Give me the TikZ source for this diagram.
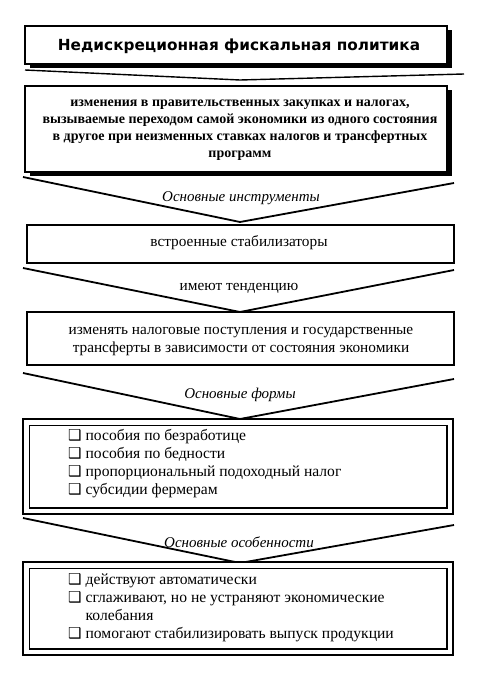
\documentclass[tikz,border=0pt]{standalone}
\usepackage{fontspec}
\setmainfont{Liberation Serif}
\newfontfamily\titlefont{DejaVu Sans}
\newfontfamily\symfont{DejaVu Sans}
\usetikzlibrary{shadows}
\newcommand{\cbx}{{\symfont\fontsize{15}{15}\selectfont ❑}\hspace{4pt}}
\begin{document}
\begin{tikzpicture}[x=1pt,y=-1pt,
  bigshadow/.style={draw, line width=1.6pt, fill=white, inner sep=0pt,
    drop shadow={shadow xshift=4.5pt, shadow yshift=-4.5pt, fill=black, opacity=1}},
  smallshadow/.style={draw, line width=1.4pt, fill=white, inner sep=0pt,
    drop shadow={shadow xshift=1.2pt, shadow yshift=-1.2pt, fill=black, opacity=1}},
  outerbox/.style={draw, line width=1.8pt, fill=white, inner sep=0pt},
  chev/.style={line width=1.8pt, line join=miter},
  lbl/.style={inner sep=0pt, font=\fontsize{15}{16}\selectfont\itshape},
  body/.style={font=\fontsize{15.3}{18}\selectfont, align=center},
  listtext/.style={font=\fontsize{15.6}{18}\selectfont, align=left, inner sep=0pt, anchor=west}
]
\useasboundingbox (0,0) rectangle (479,676);
\fill[white] (0,0) rectangle (479,676);

% title
\node[bigshadow, minimum width=422pt, minimum height=38pt] (title) at (236,45) {};
\node[inner sep=0pt] (titletext) at (239,46) {\titlefont\bfseries\fontsize{15.3}{18}\selectfont Недискреционная фискальная политика};

% shallow chevron
\coordinate (c0l) at (25,70);
\coordinate (c0m) at (240,80);
\coordinate (c0r) at (464,74);
\draw[chev, line width=1.4pt] (c0l) -- (c0m) -- (c0r);

% box 2
\node[bigshadow, minimum width=422pt, minimum height=86pt] (def) at (236,129) {};
\node[font=\bfseries\fontsize{14}{17}\selectfont, align=center, inner sep=0pt] (deftext) at (240,130)
 {изменения в правительственных закупках и налогах,\\
  вызываемые переходом самой экономики из одного состояния\\
  в другое при неизменных ставках налогов и трансфертных\\
  программ};

% chevron 1
\coordinate (c1l) at (23,177);
\coordinate (c1r) at (454,183);
\draw[chev] (c1l) -- (240,222) coordinate (c1m) -- (c1r);
\node[lbl] (l1) at (241,198) {Основные инструменты};

% box 3
\node[smallshadow, minimum width=427pt, minimum height=38pt] (stab) at (240.5,244) {};
\node[body, inner sep=0pt] (stabtext) at (239,243) {встроенные стабилизаторы};

% chevron 2
\coordinate (c2l) at (23,268);
\coordinate (c2r) at (454,270);
\draw[chev] (c2l) -- (240,312) coordinate (c2m) -- (c2r);
\node[body, inner sep=0pt] (l2) at (239,288) {имеют тенденцию};

% box 4
\node[smallshadow, minimum width=427pt, minimum height=53pt] (tend) at (240.5,338.5) {};
\node[body, inner sep=0pt] (tendtext) at (241,342)
 {изменять налоговые поступления и государственные\\
  трансферты в зависимости от состояния экономики};

% chevron 3
\coordinate (c3l) at (23,373);
\coordinate (c3r) at (454,379);
\draw[chev] (c3l) -- (240,419) coordinate (c3m) -- (c3r);
\node[lbl] (l3) at (240,395) {Основные формы};

% box 5
\node[outerbox, minimum width=430pt, minimum height=95pt] (forms) at (238,466.5) {};
\draw[line width=1.2pt] ([shift={(7pt,-7pt)}]forms.north west) rectangle ([shift={(-7pt,7pt)}]forms.south east);
\node[listtext] (formstext) at (68,463.5)
 {\cbx пособия по безработице\\
  \cbx пособия по бедности\\
  \cbx пропорциональный подоходный налог\\
  \cbx субсидии фермерам};

% chevron 4
\coordinate (c4l) at (23,518);
\coordinate (c4r) at (454,525);
\draw[chev] (c4l) -- (240,563) coordinate (c4m) -- (c4r);
\node[lbl] (l4) at (239,542) {Основные особенности};

% box 6
\node[outerbox, minimum width=430pt, minimum height=93pt] (feat) at (238,608.5) {};
\draw[line width=1.2pt] ([shift={(7pt,-7pt)}]feat.north west) rectangle ([shift={(-7pt,7pt)}]feat.south east);
\node[listtext] (feattext) at (68,608)
 {\cbx действуют автоматически\\
  \cbx сглаживают, но не устраняют экономические\\
  \phantom{\cbx}колебания\\
  \cbx помогают стабилизировать выпуск продукции};
\end{tikzpicture}
\end{document}
